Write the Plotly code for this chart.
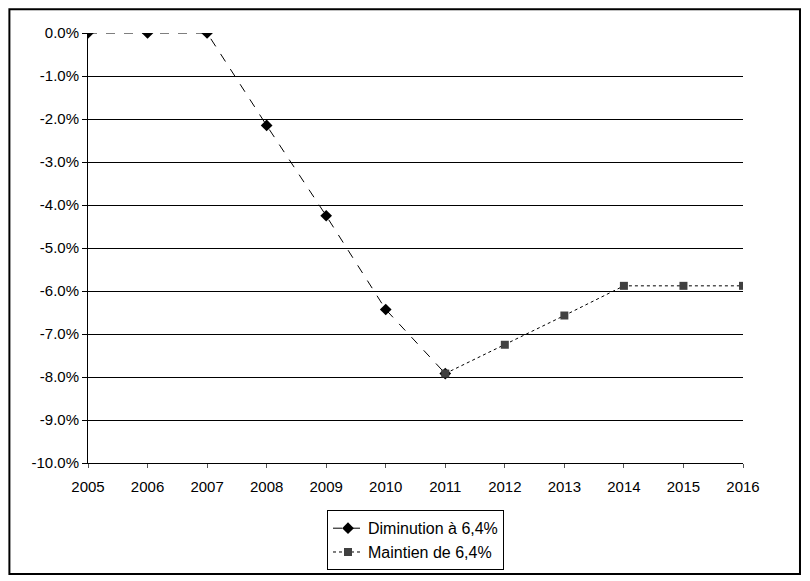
import plotly.graph_objects as go

years_dim = [2005, 2006, 2007, 2008, 2009, 2010, 2011]
values_dim = [0.0, 0.0, 0.0, -2.15, -4.25, -6.43, -7.92]
years_main = [2011, 2012, 2013, 2014, 2015, 2016]
values_main = [-7.92, -7.25, -6.57, -5.88, -5.88, -5.88]
y_ticks = [0, -1, -2, -3, -4, -5, -6, -7, -8, -9, -10]

fig = go.Figure()
fig.add_trace(go.Scatter(
    x=years_dim, y=values_dim, name='Diminution à 6,4%', mode='lines+markers',
    line=dict(color='black', width=1, dash='dash'),
    marker=dict(symbol='diamond', size=9, color='black')))
fig.add_trace(go.Scatter(
    x=years_main, y=values_main, name='Maintien de 6,4%', mode='lines+markers',
    line=dict(color='black', width=1, dash='dot'),
    marker=dict(symbol='square', size=8, color='#404040')))

fig.update_layout(
    width=810, height=581, plot_bgcolor='white', paper_bgcolor='white',
    font=dict(family='Liberation Sans, Arial', size=15, color='black'),
    margin=dict(l=80, r=75, t=25, b=126, autoexpand=False),
    showlegend=True,
    legend=dict(x=0.5, y=-0.11, xanchor='center', yanchor='top',
                bordercolor='black', borderwidth=1, tracegroupgap=0,
                font=dict(size=16)),
    xaxis=dict(range=[2005, 2016], tickmode='array', tickvals=list(range(2005, 2017)),
               showgrid=False, showline=True, linecolor='black', ticks='outside',
               ticklen=4, tickcolor='#555555', zeroline=False, ticklabelstandoff=6),
    yaxis=dict(range=[-10, 0], tickmode='array', tickvals=y_ticks,
               ticktext=[f'{v:.1f}%' for v in y_ticks],
               showgrid=True, gridcolor='black', gridwidth=1,
               showline=True, linecolor='black', ticks='outside',
               ticklen=5, tickcolor='black', zeroline=False),
    shapes=[dict(type='rect', xref='paper', yref='paper', x0=-0.12, x1=1.087,
                 y0=-0.258, y1=1.055, line=dict(color='black', width=2))],
)
fig.write_html('out.html')
